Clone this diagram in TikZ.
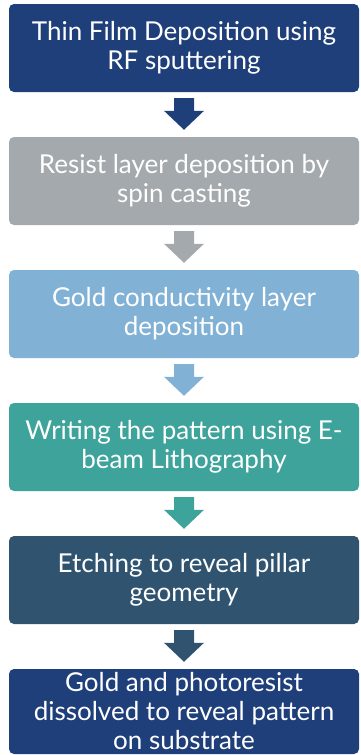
\documentclass[tikz,border=0pt]{standalone}
\usepackage{fontspec}
\setmainfont{Lato}
\usetikzlibrary{calc}
\definecolor{navy}{HTML}{1F3F7A}
\definecolor{stone}{HTML}{A3A9AC}
\definecolor{sky}{HTML}{82B1D6}
\definecolor{teal}{HTML}{3EA39B}
\definecolor{slate}{HTML}{305470}
\tikzset{
  stepbox/.style={fill=#1, draw=none, rounded corners=5pt, minimum width=350pt,
    minimum height=88pt, inner sep=0pt, text=white, align=center,
    font=\fontsize{26}{29}\selectfont},
  blockarrow/.style={fill=#1, draw=none}
}
% block arrow between the bottom of box #2 and the top of box #3
\newcommand{\downarrowblock}[3]{%
  \fill[blockarrow=#1]
    ($(#2.south)+(-10,-6)$) -- ($(#2.south)+(10,-6)$) --
    ($(#3.north)+(10,26)$) -- ($(#3.north)+(20,26)$) --
    ($(#3.north)+(0,7)$) --
    ($(#3.north)+(-20,26)$) -- ($(#3.north)+(-10,26)$) -- cycle;}
\begin{document}
\begin{tikzpicture}[x=1pt,y=1pt]
\useasboundingbox (0,0) rectangle (360,-755);
\node[stepbox=navy]  (s1) at (184,-48)  {Thin Film Deposition using\\RF sputtering};
\node[stepbox=stone] (s2) at (184,-181) {Resist layer deposition by\\spin casting};
\node[stepbox=sky]   (s3) at (184,-314) {Gold conductivity layer\\deposition};
\node[stepbox=teal]  (s4) at (184,-447) {Writing the pattern using E-\\beam Lithography};
\node[stepbox=slate] (s5) at (184,-580) {Etching to reveal pillar\\geometry};
\node[stepbox=navy, minimum height=85pt] (s6) at (184,-711.5)
  {Gold and photoresist\\dissolved to reveal pattern\\on substrate};
\downarrowblock{navy}{s1}{s2}
\downarrowblock{stone}{s2}{s3}
\downarrowblock{sky}{s3}{s4}
\downarrowblock{teal}{s4}{s5}
\downarrowblock{slate}{s5}{s6}
\end{tikzpicture}
\end{document}
